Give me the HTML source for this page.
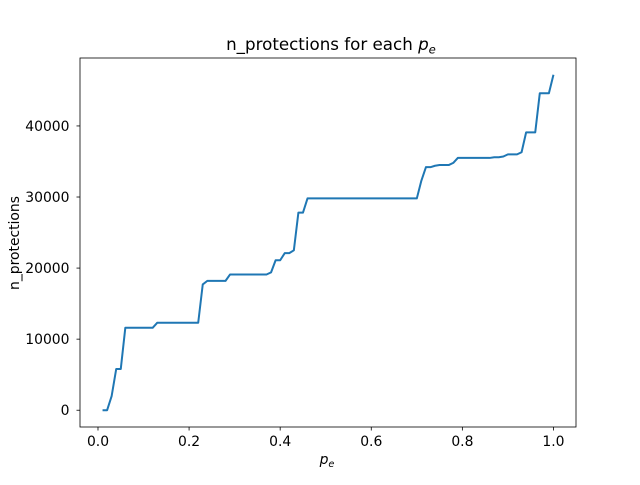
<!DOCTYPE html>
<html><head><meta charset="utf-8"><style>
body{margin:0;background:#fff}
text{font-family:"DejaVu Sans","Liberation Sans",sans-serif;font-size:13.9px;fill:#000}
</style></head><body>
<svg id="chart" width="640" height="480" xmlns="http://www.w3.org/2000/svg"></svg>
<script>
const pe=[];for(let i=1;i<=100;i++)pe.push(i/100);
const nProtections=[0,0,2000,5800,5800,11600,11600,11600,11600,11600,11600,11600,12300,12300,12300,12300,12300,12300,12300,12300,12300,12300,17700,18200,18200,18200,18200,18200,19100,19100,19100,19100,19100,19100,19100,19100,19100,19400,21100,21100,22100,22100,22500,27800,27800,29800,29800,29800,29800,29800,29800,29800,29800,29800,29800,29800,29800,29800,29800,29800,29800,29800,29800,29800,29800,29800,29800,29800,29800,29800,32300,34200,34200,34400,34500,34500,34500,34800,35500,35500,35500,35500,35500,35500,35500,35500,35600,35600,35700,36000,36000,36000,36300,39100,39100,39100,44600,44600,44600,47200];
const xTicks=[0,0.2,0.4,0.6,0.8,1.0];
const xTickLabels=["0.0","0.2","0.4","0.6","0.8","1.0"];
const yTicks=[0,10000,20000,30000,40000];
const yTickLabels=["0","10000","20000","30000","40000"];
const L=80,R=576,T=58,B=427;
const xMin=-0.0395,xMax=1.0495,yMin=-2360,yMax=49560;
const X=v=>L+(v-xMin)/(xMax-xMin)*(R-L);
const Y=v=>B-(v-yMin)/(yMax-yMin)*(B-T);
const svg=document.getElementById('chart');const NS="http://www.w3.org/2000/svg";
function mk(t,a,p){const e=document.createElementNS(NS,t);for(const k in a)e.setAttribute(k,a[k]);(p||svg).appendChild(e);return e;}
const line=mk('polyline',{points:pe.map((p,i)=>X(p)+','+Y(nProtections[i])).join(' '),fill:'none',stroke:'#1f77b4','stroke-width':2,'stroke-linejoin':'round'});


const frame=mk('rect',{x:L,y:T,width:R-L,height:B-T,fill:'none',stroke:'#000','stroke-width':0.8});


xTicks.forEach((v,i)=>{const x=X(v);mk('line',{x1:x,x2:x,y1:B,y2:B+3.5,stroke:'#000','stroke-width':0.8});
const t=mk('text',{x:x,y:B+19,'text-anchor':'middle'});t.textContent=xTickLabels[i];

});
yTicks.forEach((v,i)=>{const y=Y(v);mk('line',{x1:L,x2:L-3.5,y1:y,y2:y,stroke:'#000','stroke-width':0.8});
const t=mk('text',{x:L-10.5,y:y+5,'text-anchor':'end'});t.textContent=yTickLabels[i];

});
</script>
<svg width="640" height="480" style="position:absolute;left:0;top:0" xmlns="http://www.w3.org/2000/svg">
<text x="331" y="50" text-anchor="middle" style="font-size:16.7px">n_protections for each <tspan font-style="italic">p</tspan><tspan font-style="italic" dy="3.5" style="font-size:11.7px">e</tspan></text>
<text x="327" y="464" text-anchor="middle"><tspan font-style="italic">p</tspan><tspan font-style="italic" dy="3" style="font-size:9.7px">e</tspan></text>
<text x="19" y="243" text-anchor="middle" transform="rotate(-90 19 243)">n_protections</text>
</svg>
</body></html>
